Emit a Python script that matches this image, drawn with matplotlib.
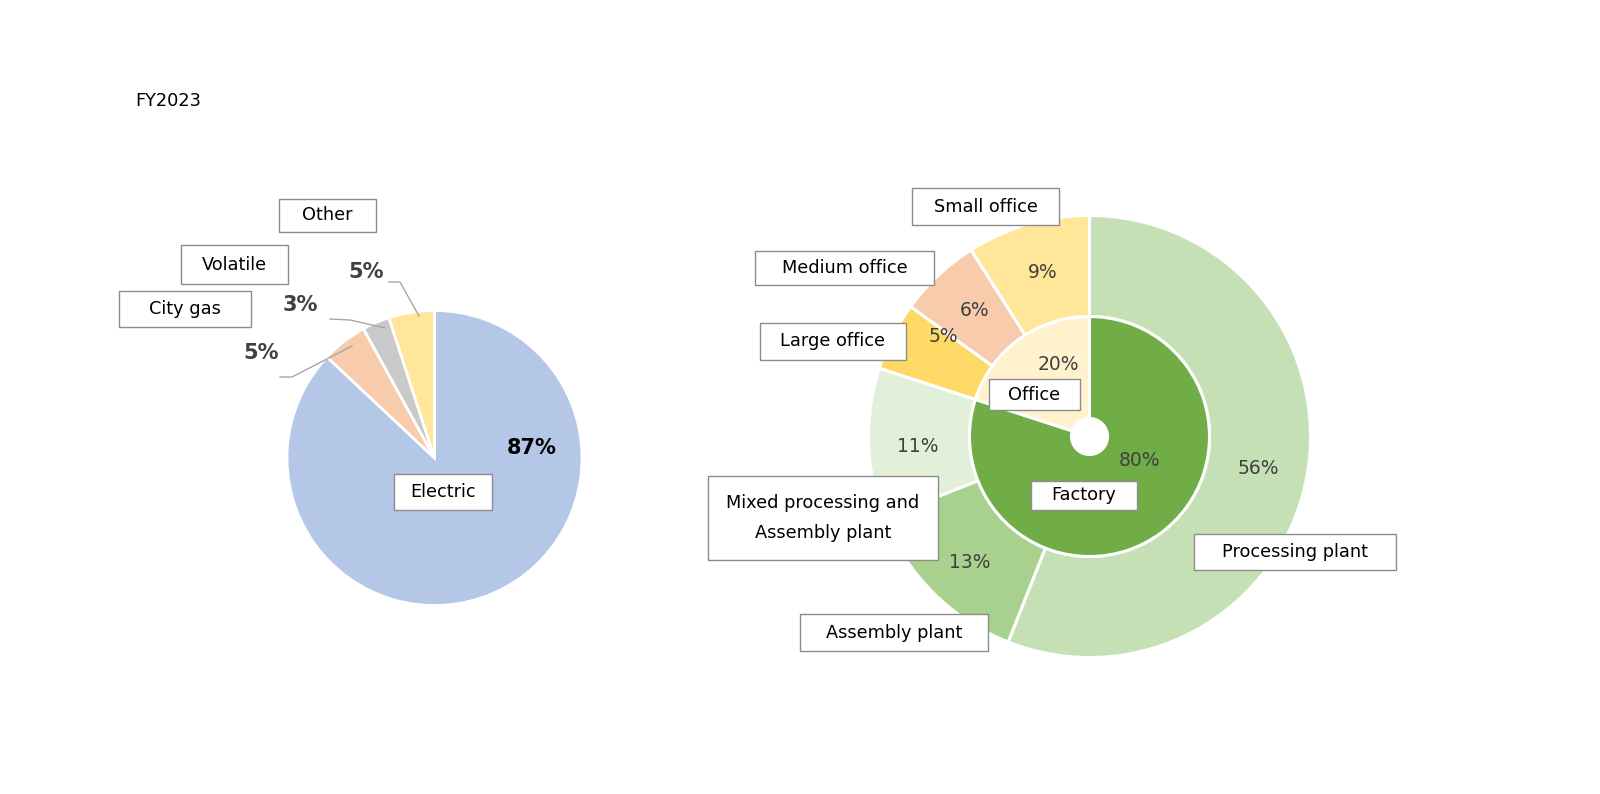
import matplotlib.pyplot as plt
from matplotlib.patches import Rectangle

# ---- data ----
energy_labels = ['Electric', 'City gas', 'Volatile', 'Other']
energy_share = [87, 5, 3, 5]
energy_colors = ['#B4C7E7', '#F8CBAD', '#C9C9C9', '#FFE699']

site_labels = ['Factory', 'Office']
site_share = [80, 20]
site_colors = ['#70AD47', '#FFF2CC']

building_labels = ['Processing plant', 'Assembly plant',
                   'Mixed processing and\nAssembly plant',
                   'Large office', 'Medium office', 'Small office']
building_share = [56, 13, 11, 5, 6, 9]
building_colors = ['#C5E0B4', '#A9D18E', '#E2F0D9', '#FFD966', '#F8CBAD', '#FFE699']

W, H = 1600, 794
FONT = 'DejaVu Sans'


def Y(y):
    # pixel row (from top) -> data y
    return H - y


def label_box(ax, x0, y0, x1, y1, text, fs=12.8, ls=1.0):
    ax.add_patch(Rectangle((x0, Y(y1)), x1 - x0, y1 - y0, facecolor='white',
                           edgecolor='#8C8C8C', linewidth=1.0, zorder=5))
    ax.text((x0 + x1) / 2, Y((y0 + y1) / 2), text, ha='center', va='center',
            fontsize=fs, color='black', linespacing=ls, zorder=6, family=FONT)


fig = plt.figure(figsize=(16, 7.94), dpi=100)
ax = fig.add_axes([0, 0, 1, 1])

# ---- left pie ----
ax.pie(energy_share, colors=energy_colors, startangle=90, counterclock=False,
       center=(434.5, Y(458)), radius=147.5,
       wedgeprops=dict(edgecolor='white', linewidth=2))

# ---- right donut ----
cx, cy = 1089.5, Y(436.5)
R_out, R_mid, R_hole = 221, 120, 18
ax.pie(building_share, colors=building_colors, startangle=90, counterclock=False,
       center=(cx, cy), radius=R_out,
       wedgeprops=dict(width=R_out - R_mid, edgecolor='white', linewidth=2.2))
ax.pie(site_share, colors=site_colors, startangle=90, counterclock=False,
       center=(cx, cy), radius=R_mid,
       wedgeprops=dict(width=R_mid - R_hole, edgecolor='white', linewidth=2.2))

ax.set_xlim(0, W)
ax.set_ylim(0, H)
ax.set_aspect('equal')
ax.axis('off')

ax.text(135, Y(101), 'FY2023', fontsize=12.8, va='center', ha='left', family=FONT)

# percent labels (left)
left_pct_pos = [(532, 448), (261, 353), (300, 305), (366, 272)]
for (px, py), v, i in zip(left_pct_pos, energy_share, range(4)):
    ax.text(px, Y(py), f'{v}%', ha='center', va='center', fontsize=15,
            fontweight='bold', color='black' if i == 0 else '#404040', family=FONT)

# leader lines
leaders = [
    [(280, 377), (292, 377), (352, 346)],
    [(330, 319), (350, 320), (385, 328)],
    [(389, 282), (400, 282), (419, 316)],
]
for pts in leaders:
    xs = [p[0] for p in pts]
    ys = [Y(p[1]) for p in pts]
    ax.plot(xs, ys, color='#A6A6A6', linewidth=1.0)

left_boxes = [(394, 474, 492, 510), (119, 291, 251, 327),
              (181, 245, 288, 284), (279, 199, 376, 232)]
for (x0, y0, x1, y1), name in zip(left_boxes, energy_labels):
    label_box(ax, x0, y0, x1, y1, name)

building_pct_pos = [(1258, 469), (970, 562), (918, 447), (943, 337), (975, 311), (1043, 273)]
for (px, py), v in zip(building_pct_pos, building_share):
    ax.text(px, Y(py), f'{v}%', ha='center', va='center', fontsize=13.5,
            color='#404040', family=FONT)
site_pct_pos = [(1139, 461), (1058, 364)]
for (px, py), v in zip(site_pct_pos, site_share):
    ax.text(px, Y(py), f'{v}%', ha='center', va='center', fontsize=13.5,
            color='#404040', family=FONT)

building_boxes = [(1194, 534, 1396, 570), (800, 614, 988, 651), (708, 476, 938, 560),
                  (760, 323, 906, 360), (755, 251, 934, 285), (912, 188, 1059, 225)]
for (x0, y0, x1, y1), name in zip(building_boxes, building_labels):
    label_box(ax, x0, y0, x1, y1, name, ls=1.9)
site_boxes = [(1031, 481, 1137, 510), (989, 379, 1080, 410)]
for (x0, y0, x1, y1), name in zip(site_boxes, site_labels):
    label_box(ax, x0, y0, x1, y1, name)

fig.savefig('out.png', dpi=100, facecolor='white')
